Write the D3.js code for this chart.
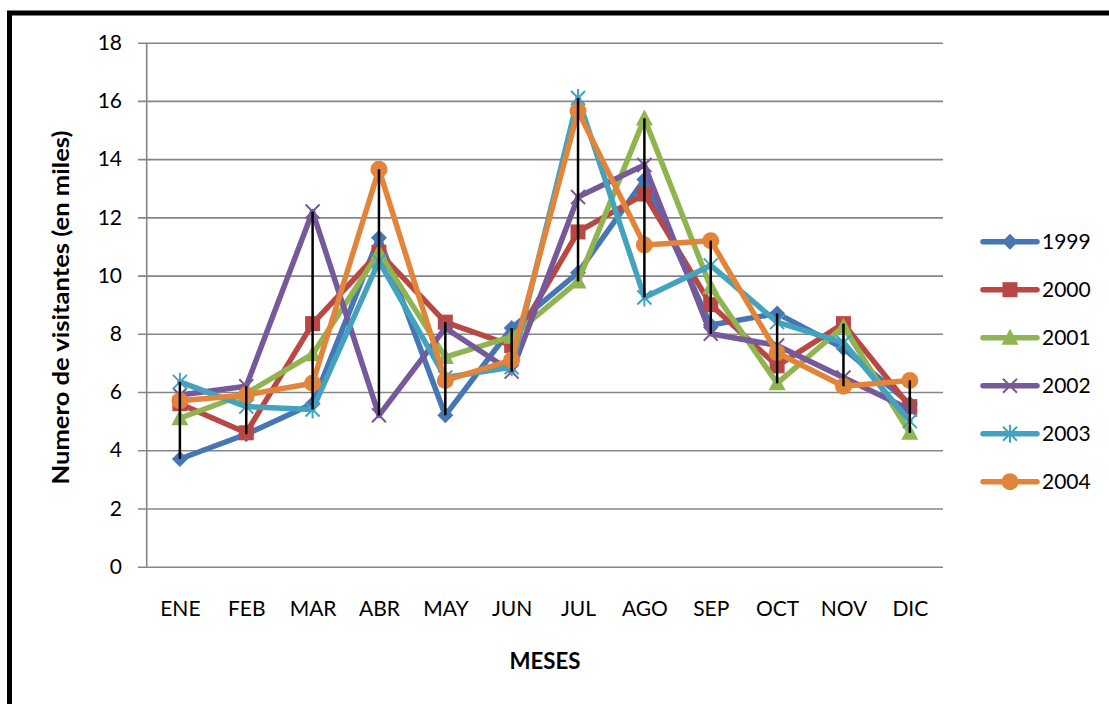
<!DOCTYPE html>
<html>
<head>
<meta charset="utf-8">
<script src="https://cdn.jsdelivr.net/npm/d3@7"></script>
<style>
  html, body { margin: 0; padding: 0; background: #fff; }
  svg { display: block; font-family: Lato, "Liberation Sans", sans-serif; }
</style>
</head>
<body>
<svg id="chart" width="1109" height="704"></svg>
<script>
// Monthly visitors (thousands), one array per year
const months = ["ENE","FEB","MAR","ABR","MAY","JUN","JUL","AGO","SEP","OCT","NOV","DIC"];
const years = ["1999","2000","2001","2002","2003","2004"];
const v1999 = [3.7, 4.55, 5.6, 11.3, 5.2, 8.2, 10.1, 13.3, 8.3, 8.7, 7.5, 5.6];
const v2000 = [5.6, 4.6, 8.35, 10.8, 8.4, 7.6, 11.5, 12.8, 9.0, 6.9, 8.35, 5.5];
const v2001 = [5.1, 5.95, 7.3, 10.8, 7.2, 7.9, 9.8, 15.4, 9.6, 6.3, 8.25, 4.6];
const v2002 = [5.9, 6.2, 12.2, 5.2, 8.2, 6.7, 12.7, 13.8, 8.0, 7.6, 6.5, 5.4];
const v2003 = [6.35, 5.5, 5.4, 10.5, 6.5, 6.85, 16.1, 9.25, 10.35, 8.4, 7.7, 5.0];
const v2004 = [5.7, 5.9, 6.3, 13.65, 6.4, 7.1, 15.65, 11.05, 11.2, 7.35, 6.2, 6.4];
const yTicks = [0, 2, 4, 6, 8, 10, 12, 14, 16, 18];

const seriesValues = [v1999, v2000, v2001, v2002, v2003, v2004];
const colors = ["#4676B3", "#B94744", "#8FB450", "#76599A", "#43A3BF", "#E2843A"];
const shapes = ["diamond", "square", "triangle", "x", "star", "circle"];

const svg = d3.select("#chart");

// outer frame
svg.append("rect")
  .attr("x", 9.5).attr("y", 13)
  .attr("width", 1300).attr("height", 900)
  .attr("fill", "none").attr("stroke", "#000").attr("stroke-width", 5);

const x = d3.scalePoint().domain(months).range([146.7, 943]).padding(0.5);
const y = d3.scaleLinear().domain([0, 18]).range([566.7, 42.7]);

// horizontal gridlines + y tick labels
const yAxis = d3.axisLeft(y).tickValues(yTicks).tickSize(-(943 - 138)).tickPadding(16).tickFormat(d3.format("d"));
const gy = svg.append("g").attr("transform", "translate(138,0)").call(yAxis);
gy.select(".domain").remove();
gy.selectAll(".tick line").attr("stroke", "#868686").attr("stroke-width", 1.6);
gy.selectAll(".tick text").attr("font-size", 21).attr("fill", "#000").attr("font-family", "Lato, sans-serif");

// vertical axis line
svg.append("line")
  .attr("x1", 146.7).attr("x2", 146.7).attr("y1", y(18)).attr("y2", y(0))
  .attr("stroke", "#868686").attr("stroke-width", 1.6);

// category labels
const xAxis = d3.axisBottom(x).tickSize(0).tickPadding(34);
const gx = svg.append("g").attr("transform", `translate(0,${y(0)})`).call(xAxis);
gx.select(".domain").remove();
gx.selectAll(".tick text").attr("font-size", 21).attr("fill", "#000").attr("font-family", "Lato, sans-serif");

// axis titles
svg.append("text")
  .attr("x", 545).attr("y", 669)
  .attr("text-anchor", "middle").attr("font-size", 22).attr("font-weight", "bold")
  .attr("textLength", 71).attr("lengthAdjust", "spacingAndGlyphs")
  .text("MESES");
svg.append("text")
  .attr("transform", "translate(69,307.5) rotate(-90)")
  .attr("text-anchor", "middle").attr("font-size", 22).attr("font-weight", "bold")
  .attr("textLength", 354).attr("lengthAdjust", "spacingAndGlyphs")
  .text("Numero de visitantes (en miles)");

// marker drawing
function drawMarker(g, shape, color, cx, cy) {
  const s = g.append("g").attr("transform", `translate(${cx},${cy})`);
  if (shape === "diamond") {
    s.append("path").attr("d", "M0,-8L8,0L0,8L-8,0Z").attr("fill", color);
  } else if (shape === "square") {
    s.append("rect").attr("x", -7.5).attr("y", -7.5).attr("width", 15).attr("height", 15).attr("fill", color);
  } else if (shape === "triangle") {
    s.append("path").attr("d", "M0,-9L8.5,7L-8.5,7Z").attr("fill", color);
  } else if (shape === "x") {
    s.append("path").attr("d", "M-7,-7L7,7M7,-7L-7,7").attr("stroke", color).attr("stroke-width", 2);
  } else if (shape === "star") {
    s.append("path").attr("d", "M-7,-7L7,7M7,-7L-7,7M0,-9L0,9").attr("stroke", color).attr("stroke-width", 2);
  } else if (shape === "circle") {
    s.append("circle").attr("r", 8.5).attr("fill", color);
  }
}

const line = d3.line().x((d, i) => x(months[i])).y(d => y(d));
const plot = svg.append("g");

seriesValues.forEach((vals, si) => {
  const g = plot.append("g");
  g.append("path").datum(vals)
    .attr("d", line)
    .attr("fill", "none").attr("stroke", colors[si]).attr("stroke-width", 5.5)
    .attr("stroke-linejoin", "round").attr("stroke-linecap", "round");
  vals.forEach((v, i) => drawMarker(g, shapes[si], colors[si], x(months[i]), y(v)));
});

// high-low lines per month
months.forEach((m, i) => {
  const col = seriesValues.map(s => s[i]);
  svg.append("line")
    .attr("x1", x(m)).attr("x2", x(m))
    .attr("y1", y(d3.min(col))).attr("y2", y(d3.max(col)))
    .attr("stroke", "#000").attr("stroke-width", 2.5);
});

// legend
const legend = svg.append("g");
years.forEach((yr, i) => {
  const ly = 241.7 + i * 48;
  legend.append("line")
    .attr("x1", 983).attr("x2", 1037).attr("y1", ly).attr("y2", ly)
    .attr("stroke", colors[i]).attr("stroke-width", 5.5).attr("stroke-linecap", "round");
  drawMarker(legend, shapes[i], colors[i], 1010, ly);
  legend.append("text")
    .attr("x", 1042).attr("y", ly).attr("dy", "0.36em")
    .attr("font-size", 21).text(yr);
});
</script>
</body>
</html>
